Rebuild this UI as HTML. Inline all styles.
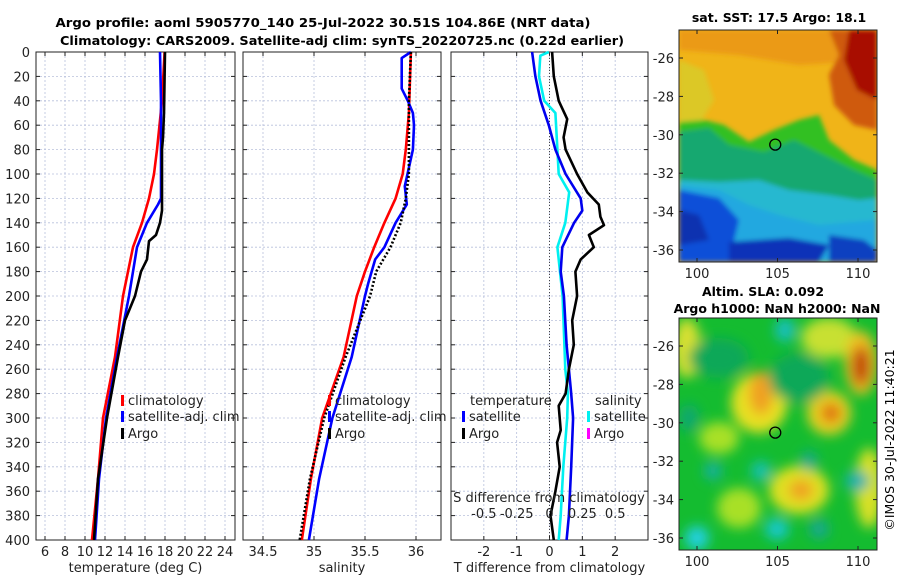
<!DOCTYPE html>
<html><head><meta charset="utf-8"><style>
body{margin:0;background:#fff}
svg{display:block;font-family:"DejaVu Sans","Liberation Sans",sans-serif}
</style></head><body>
<svg id="fig" width="900" height="580" viewBox="0 0 900 580" xmlns="http://www.w3.org/2000/svg">
<defs>
<filter id="blur3" x="-10%" y="-10%" width="120%" height="120%"><feGaussianBlur stdDeviation="2.5"/></filter>
<filter id="blur6" x="-20%" y="-20%" width="140%" height="140%"><feGaussianBlur stdDeviation="6"/></filter>
<clipPath id="clipSst"><rect x="679" y="30" width="198" height="232"/></clipPath>
<clipPath id="clipAlt"><rect x="679" y="318" width="198" height="232"/></clipPath>
</defs>
<text x="323" y="27" text-anchor="middle" font-size="12.5" font-weight="bold" textLength="535" lengthAdjust="spacingAndGlyphs">Argo profile: aoml 5905770_140 25-Jul-2022 30.51S 104.86E (NRT data)</text>
<text x="342" y="45" text-anchor="middle" font-size="12.5" font-weight="bold" textLength="564" lengthAdjust="spacingAndGlyphs">Climatology: CARS2009. Satellite-adj clim: synTS_20220725.nc (0.22d earlier)</text>
<g id="panels"></g>
<g id="maps">
 <g clip-path="url(#clipSst)">
  <rect x="679" y="30" width="198" height="232" fill="#f0b418"/>
  <g transform="translate(679,30)" filter="url(#blur3)">
   <polygon points="0,0 198,0 198,30 120,35 60,25 0,20" fill="#eb9a12"/>
   <polygon points="0,30 25,40 35,70 20,95 0,95" fill="#dcc828"/>
   <polygon points="150,0 198,0 198,100 175,95 155,75 150,45 160,25" fill="#cf5a10"/>
   <polygon points="170,0 198,0 198,70 178,60 165,30" fill="#a80c00"/>
   <polygon points="0,92 25,90 45,95 70,112 95,100 120,90 140,85 150,110 175,130 198,140 198,232 0,232" fill="#30c020"/>
   <polygon points="0,102 30,98 50,115 85,122 115,110 145,125 175,140 198,150 198,232 0,232" fill="#18a870"/>
   <polygon points="0,150 40,152 80,150 110,160 150,165 180,170 198,168 198,232 0,232" fill="#28b8d0"/>
   <polygon points="0,155 40,160 70,175 100,185 140,195 198,190 198,232 0,232" fill="#20a8e0"/>
   <polygon points="0,160 40,168 60,190 50,232 0,232" fill="#1050d8"/>
   <polygon points="0,180 20,185 30,210 0,215" fill="#0830b0"/>
   <polygon points="50,212 110,208 150,215 140,232 50,232" fill="#0a30b8"/>
   <polygon points="150,205 185,210 198,220 198,232 150,232" fill="#1040c0"/>
  </g>
 </g>
 <g clip-path="url(#clipAlt)">
  <rect x="679" y="318" width="198" height="232" fill="#14bc30"/>
  <g transform="translate(679,318)" filter="url(#blur6)">
   <ellipse cx="8" cy="30" rx="14" ry="30" fill="#d8e030"/>
   <ellipse cx="150" cy="20" rx="28" ry="20" fill="#c8e030"/>
   <ellipse cx="80" cy="85" rx="28" ry="30" fill="#e8e020"/>
   <ellipse cx="82" cy="75" rx="12" ry="22" fill="#f0a020"/>
   <ellipse cx="150" cy="95" rx="22" ry="22" fill="#e8d020"/>
   <ellipse cx="152" cy="95" rx="10" ry="10" fill="#e07010"/>
   <ellipse cx="182" cy="45" rx="16" ry="32" fill="#f0c020"/>
   <ellipse cx="182" cy="48" rx="9" ry="20" fill="#c04008"/>
   <ellipse cx="120" cy="172" rx="30" ry="24" fill="#e0e020"/>
   <ellipse cx="122" cy="172" rx="12" ry="10" fill="#f0a020"/>
   <ellipse cx="40" cy="120" rx="20" ry="16" fill="#a8e028"/>
   <ellipse cx="60" cy="190" rx="22" ry="20" fill="#a8e028"/>
   <ellipse cx="190" cy="170" rx="14" ry="40" fill="#d8e028"/>
   <ellipse cx="40" cy="40" rx="30" ry="20" fill="#10a858"/>
   <ellipse cx="120" cy="60" rx="30" ry="25" fill="#10a858"/>
   <ellipse cx="106" cy="12" rx="10" ry="12" fill="#18c0c0"/>
   <ellipse cx="34" cy="153" rx="9" ry="9" fill="#18b0a0"/>
   <ellipse cx="82" cy="153" rx="10" ry="10" fill="#18c0b0"/>
   <ellipse cx="130" cy="143" rx="8" ry="10" fill="#18a890"/>
   <ellipse cx="178" cy="163" rx="12" ry="10" fill="#18b0b0"/>
   <ellipse cx="18" cy="220" rx="12" ry="12" fill="#20d0e0"/>
   <ellipse cx="98" cy="211" rx="12" ry="11" fill="#18c8c8"/>
   <ellipse cx="140" cy="211" rx="10" ry="10" fill="#18a890"/>
   <ellipse cx="10" cy="100" rx="10" ry="14" fill="#10a870"/>
  </g>
 </g>
</g>
<g id="mapaxes"></g>
<text x="779" y="22" text-anchor="middle" font-size="12.5" font-weight="bold">sat. SST: 17.5 Argo: 18.1</text>
<text x="763" y="296" text-anchor="middle" font-size="12.5" font-weight="bold">Altim. SLA: 0.092</text>
<text x="777" y="313" text-anchor="middle" font-size="12.5" font-weight="bold">Argo h1000: NaN h2000: NaN</text>
<text transform="translate(894,440) rotate(-90)" text-anchor="middle" font-size="12.5">©IMOS 30-Jul-2022 11:40:21</text>
</svg>
<script>
// ---- data ----
const depthTicks = [0,20,40,60,80,100,120,140,160,180,200,220,240,260,280,300,320,340,360,380,400];
const tempTicks = [6,8,10,12,14,16,18,20,22,24];
const salTicks = [34.5,35,35.5,36];
const salTickLabels = ["34.5","35","35.5","36"];
const tdiffTicks = [-2,-1,0,1,2];
const sdiffTicks = [-0.5,-0.25,0,0.25,0.5];
const sdiffTickLabels = ["-0.5","-0.25","0","0.25","0.5"];

const climDepth = [0,40,80,100,120,140,160,180,200,250,300,350,400];
const climTemp = [17.96,17.7,17.2,16.9,16.4,15.7,14.8,14.3,13.8,13.0,11.8,11.3,10.7];
const satDepth = [0,40,80,120,125,140,160,180,200,250,300,350,400];
const satTemp = [17.5,17.6,17.6,17.6,17.3,16.2,15.2,14.8,14.4,13.2,12.1,11.4,11.0];
const argoDepth = [0,50,70,80,130,140,150,155,170,180,200,220,250,300,350,400];
const argoTemp = [18.0,17.9,17.8,17.7,17.7,17.5,17.1,16.4,16.2,15.6,15.0,14.0,13.3,12.2,11.3,10.9];

const climSalDepth = [0,50,80,100,120,140,160,180,200,250,300,350,400];
const climSal = [35.95,35.93,35.90,35.87,35.80,35.69,35.59,35.50,35.42,35.29,35.08,34.97,34.88];
const satSalDepth = [0,5,30,40,50,60,80,110,125,140,160,170,190,200,250,300,350,400];
const satSal = [35.95,35.86,35.86,35.92,35.97,35.98,35.97,35.89,35.91,35.80,35.69,35.60,35.53,35.50,35.37,35.18,35.05,34.95];
const argoSalDepth = [0,40,100,120,140,160,180,200,250,300,350,400];
const argoSal = [35.95,35.93,35.93,35.90,35.85,35.75,35.61,35.55,35.31,35.10,34.96,34.86];

const satTdiffDepth = [0,20,40,60,80,100,120,130,140,160,180,200,240,280,300,340,380,400];
const satTdiff = [-0.53,-0.43,-0.27,-0.02,0.18,0.49,0.95,1.0,0.75,0.39,0.34,0.44,0.52,0.66,0.72,0.66,0.59,0.52];
const satSdiffDepth = [0,3,20,40,50,80,100,115,140,160,200,260,280,300,340,380,400];
const satSdiff = [-0.005,-0.07,-0.08,-0.04,0.045,0.06,0.07,0.15,0.12,0.06,0.1,0.12,0.14,0.135,0.105,0.085,0.07];
const argoTdiffDepth = [0,20,40,55,70,80,100,115,125,135,142,150,160,170,180,200,220,240,260,280,290,310,320,340,360,380,400];
const argoTdiff = [0.08,0.13,0.28,0.54,0.43,0.49,0.84,1.15,1.5,1.55,1.66,1.2,1.35,0.95,0.79,0.84,0.69,0.74,0.59,0.49,0.28,0.34,0.23,0.31,0.18,0.03,0.13];

const latTicks = [-26,-28,-30,-32,-34,-36];
const lonTicks = [100,105,110];
const argoLon = 104.86, argoLat = -30.51;

// ---- helpers ----
const NS = "http://www.w3.org/2000/svg";
function mk(tag, attrs, parent, txt){
  const e = document.createElementNS(NS, tag);
  for (const k in attrs) e.setAttribute(k, attrs[k]);
  if (txt !== undefined) e.textContent = txt;
  parent.appendChild(e);
  return e;
}
const Y0 = 52, Y1 = 540;
const yD = d => Y0 + (d/400)*(Y1-Y0);
const panelsG = document.getElementById('panels');

function panel(name, x0, x1, vmin, vmax, vticks, vlabels, title, showY){
  const g = mk('g', {}, panelsG);
  
  
  const sx = v => x0 + (v - vmin)/(vmax - vmin)*(x1 - x0);
  depthTicks.forEach(d => {
    const l = mk('line', {x1:x0, x2:x1, y1:yD(d), y2:yD(d), stroke:'#b8c0dc', 'stroke-width':0.8, 'stroke-dasharray':'2,2'}, g);
    
    
    mk('line', {x1:x0, x2:x0+4, y1:yD(d), y2:yD(d), stroke:'#222'}, g);
    mk('line', {x1:x1-4, x2:x1, y1:yD(d), y2:yD(d), stroke:'#222'}, g);
    if (showY){
      const t = mk('text', {x:x0-6, y:yD(d)+5, 'text-anchor':'end', 'font-size':13, fill:'#222'}, g, String(d));
      
      
    }
  });
  vticks.forEach((v,i) => {
    const l = mk('line', {x1:sx(v), x2:sx(v), y1:Y0, y2:Y1, stroke:'#b8c0dc', 'stroke-width':0.8, 'stroke-dasharray':'2,2'}, g);
    
    
    mk('line', {x1:sx(v), x2:sx(v), y1:Y1-4, y2:Y1, stroke:'#222'}, g);
    mk('line', {x1:sx(v), x2:sx(v), y1:Y0, y2:Y0+4, stroke:'#222'}, g);
    const t = mk('text', {x:sx(v), y:556, 'text-anchor':'middle', 'font-size':13, fill:'#222'}, g, vlabels ? vlabels[i] : String(v));
    
    
  });
  const tt = mk('text', {x:(x0+x1)/2, y:572, 'text-anchor':'middle', 'font-size':13, fill:'#222'}, g, title);
  
  
  const fr = mk('rect', {x:x0, y:Y0, width:x1-x0, height:Y1-Y0, fill:'none', stroke:'#222', 'stroke-width':1}, g);
  
  
  return {g, sx};
}
function line(p, name, vals, depths, color, dash, w){
  const pts = vals.map((v,i) => p.sx(v).toFixed(1) + ',' + yD(depths[i]).toFixed(1)).join(' ');
  const a = {points:pts, fill:'none', stroke:color, 'stroke-width':w||2.6, 'stroke-linejoin':'round'};
  if (dash) a['stroke-dasharray'] = dash;
  const e = mk('polyline', a, p.g);
  
  
}
function legendEntry(g, name, x, y, color, label){
  const grp = mk('g', {}, g);
  
  
  mk('rect', {x:x, y:y-10, width:3, height:11, fill:color}, grp);
  mk('text', {x:x+7, y:y, 'font-size':13, fill:'#222'}, grp, label);
}

// temperature panel
const pT = panel('temperature-panel', 36, 235, 5.1, 25, tempTicks, null, 'temperature (deg C)', true);
line(pT, 'climatology-temperature-line', climTemp, climDepth, '#ff0000');
line(pT, 'satellite-temperature-line', satTemp, satDepth, '#0000ff');
line(pT, 'argo-temperature-line', argoTemp, argoDepth, '#000000');
legendEntry(pT.g, 'legend-climatology', 121, 405, '#ff0000', 'climatology');
legendEntry(pT.g, 'legend-satellite-adj-clim', 121, 421, '#0000ff', 'satellite-adj. clim');
legendEntry(pT.g, 'legend-argo', 121, 438, '#000000', 'Argo');

// salinity panel
const pS = panel('salinity-panel', 243, 441, 34.304, 36.245, salTicks, salTickLabels, 'salinity', false);
line(pS, 'climatology-salinity-line', climSal, climSalDepth, '#ff0000');
line(pS, 'satellite-salinity-line', satSal, satSalDepth, '#0000ff');
line(pS, 'argo-salinity-line', argoSal, argoSalDepth, '#000000', '2,2');
legendEntry(pS.g, 'legend-climatology-sal', 328, 405, '#ff0000', 'climatology');
legendEntry(pS.g, 'legend-satellite-adj-clim-sal', 328, 421, '#0000ff', 'satellite-adj. clim');
legendEntry(pS.g, 'legend-argo-sal', 328, 438, '#000000', 'Argo');

// difference panel
const pD = panel('difference-panel', 451, 648, -3, 3, tdiffTicks, null, 'T difference from climatology', false);
const zl = mk('line', {x1:pD.sx(0), x2:pD.sx(0), y1:Y0, y2:Y1, stroke:'#444', 'stroke-width':1, 'stroke-dasharray':'1,2'}, pD.g);


line(pD, 'satellite-salinity-diff-line', satSdiff.map(v => v*4), satSdiffDepth, '#00f0f0');
line(pD, 'satellite-temperature-diff-line', satTdiff, satTdiffDepth, '#0000ee');
line(pD, 'argo-temperature-diff-line', argoTdiff, argoTdiffDepth, '#000000');
const st = mk('text', {x:549, y:502, 'text-anchor':'middle', 'font-size':13, fill:'#222'}, pD.g, 'S difference from climatology');


sdiffTicks.forEach((v,i) => {
  const t = mk('text', {x:pD.sx(v*4), y:518, 'text-anchor':'middle', 'font-size':13, fill:'#222'}, pD.g, sdiffTickLabels[i]);
  
  
});
const lt = mk('text', {x:470, y:405, 'font-size':13, fill:'#222'}, pD.g, 'temperature');


const ls = mk('text', {x:595, y:405, 'font-size':13, fill:'#222'}, pD.g, 'salinity');


legendEntry(pD.g, 'legend-temp-satellite', 462, 421, '#0000ff', 'satellite');
legendEntry(pD.g, 'legend-temp-argo', 462, 438, '#000000', 'Argo');
legendEntry(pD.g, 'legend-sal-satellite', 587, 421, '#00f0f0', 'satellite');
legendEntry(pD.g, 'legend-sal-argo', 587, 438, '#ff00ff', 'Argo');

// map axes
const mapG = document.getElementById('mapaxes');
function mapAxes(name, top){
  const g = mk('g', {}, mapG);
  
  
  const x0 = 679, x1 = 877, y0 = top, y1 = top + 232;
  const lx = lon => 697 + (lon - 100)*16.1;
  const ly = lat => top + 28 + (-26 - lat)*19.2;
  mk('rect', {x:x0, y:y0, width:x1-x0, height:y1-y0, fill:'none', stroke:'#222'}, g);
  latTicks.forEach(l => {
    mk('line', {x1:x0, x2:x0+4, y1:ly(l), y2:ly(l), stroke:'#222'}, g);
    mk('line', {x1:x1-4, x2:x1, y1:ly(l), y2:ly(l), stroke:'#222'}, g);
    const t = mk('text', {x:x0-5, y:ly(l)+5, 'text-anchor':'end', 'font-size':13, fill:'#222'}, g, String(l));
    
    
  });
  lonTicks.forEach(l => {
    mk('line', {x1:lx(l), x2:lx(l), y1:y1-4, y2:y1, stroke:'#222'}, g);
    mk('line', {x1:lx(l), x2:lx(l), y1:y0, y2:y0+4, stroke:'#222'}, g);
    const t = mk('text', {x:lx(l), y:y1+16, 'text-anchor':'middle', 'font-size':13, fill:'#222'}, g, String(l));
    
    
  });
  const c = mk('circle', {cx:lx(argoLon), cy:ly(argoLat), r:5.5, fill:'none', stroke:'#000', 'stroke-width':1.3}, g);
  
  
}
mapAxes('sst-map-axes', 30);
mapAxes('altimetry-map-axes', 318);
</script>
</body></html>
